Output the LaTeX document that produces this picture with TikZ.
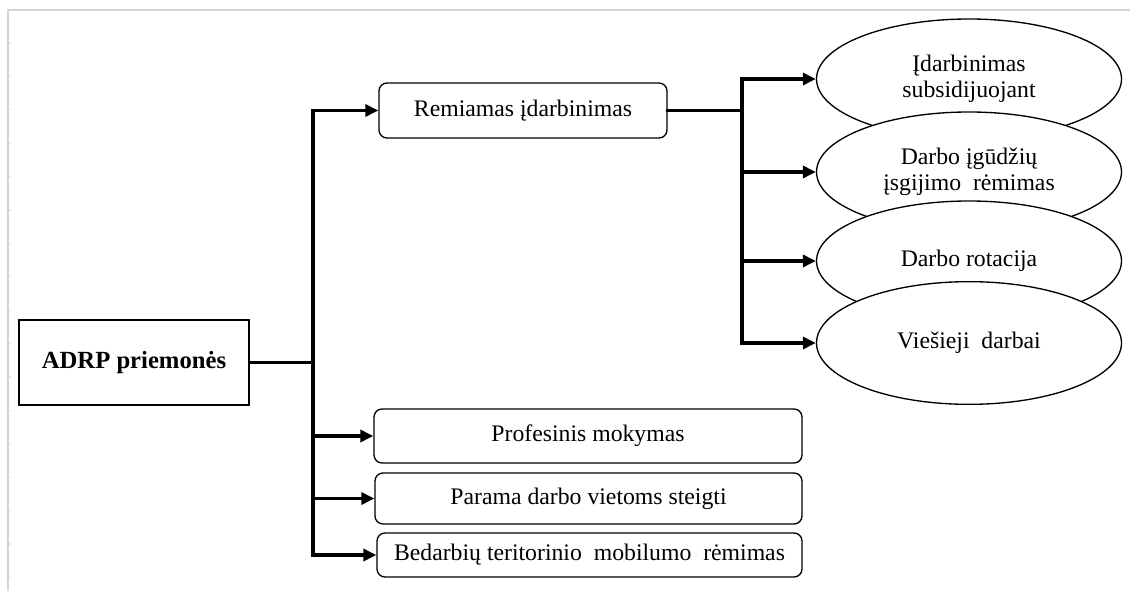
\documentclass[tikz,border=0pt]{standalone}
\usepackage{fontspec}
\setmainfont{Liberation Serif}
\usetikzlibrary{arrows.meta,shapes.geometric}

\begin{document}
\begin{tikzpicture}[x=0.75pt,y=-0.75pt,
  frame/.style={draw=black!17,line width=1.5pt},
  tick/.style={draw=black!10,line width=0.8pt},
  mainbox/.style={draw,line width=1pt,fill=white,align=center,inner sep=0pt,font=\fontsize{18.5}{21}\selectfont\bfseries},
  rbox/.style={draw,line width=1pt,rounded corners=6pt,fill=white,align=center,inner sep=0pt,font=\fontsize{17.8}{20}\selectfont},
  oval/.style={ellipse,draw,line width=1pt,fill=white,align=center,inner sep=0pt,
    minimum width=228.75pt,minimum height=90pt,font=\fontsize{17.8}{19.8}\selectfont},
  trunk/.style={line width=2.5pt,line cap=rect},
  conn/.style={line width=2.5pt,-{Triangle[length=9.75pt,width=9pt]}}]

\useasboundingbox (0,0) rectangle (1130,591);

% page frame with ruler ticks
\draw[frame] (8,591) -- (8,10) -- (1130,10);
\foreach \k in {0,...,16}
  \draw[tick] (9,43+33.4*\k) -- (11,43+33.4*\k);

% root
\node[mainbox,minimum width=172.5pt,minimum height=63.75pt] (adrp) at (134,362.5) {ADRP priemonės};

% first level
\node[rbox,minimum width=216pt,minimum height=41.25pt] (rem) at (523,110.5) {Remiamas įdarbinimas};
\node[rbox,minimum width=321pt,minimum height=40.5pt] (prof) at (588,436) {Profesinis mokymas};
\node[rbox,minimum width=320.25pt,minimum height=38.25pt] (par) at (588.5,498.5) {Parama darbo vietoms steigti};
\node[rbox,minimum width=318.75pt,minimum height=33pt] (bed) at (589.5,555) {Bedarbių teritorinio\ \ mobilumo\ \ rėmimas};

% second level (later ovals overlap earlier ones)
\node[oval] (e1) at (969,79) {Įdarbinimas\\subsidijuojant};
\node[oval] (e2) at (969,172) {Darbo įgūdžių\\įsgijimo\ \ rėmimas};
\node[oval] (e3) at (969,261) {Darbo rotacija};
\node[oval,minimum height=92pt] (e4) at (969,343) {Viešieji\ \ darbai};

% junction columns
\coordinate (t1) at (313,0);
\coordinate (t2) at (742,0);

% root connectors
\draw[trunk] (adrp.east) -- (adrp.east -| t1);
\draw[trunk] (t1 |- rem.west) -- (t1 |- bed.west);
\draw[conn] (t1 |- rem.west) -- (rem.west);
\draw[conn] (t1 |- prof.west) -- (prof.west);
\draw[conn] (t1 |- par.west) -- (par.west);
\draw[conn] (t1 |- bed.west) -- (bed.west);

% supported employment connectors
\draw[trunk] (rem.east) -- (rem.east -| t2);
\draw[trunk] (t2 |- e1.west) -- (t2 |- e4.west);
\draw[conn] (t2 |- e1.west) -- (e1.west);
\draw[conn] (t2 |- e2.west) -- (e2.west);
\draw[conn] (t2 |- e3.west) -- (e3.west);
\draw[conn] (t2 |- e4.west) -- (e4.west);

\end{tikzpicture}
\end{document}
